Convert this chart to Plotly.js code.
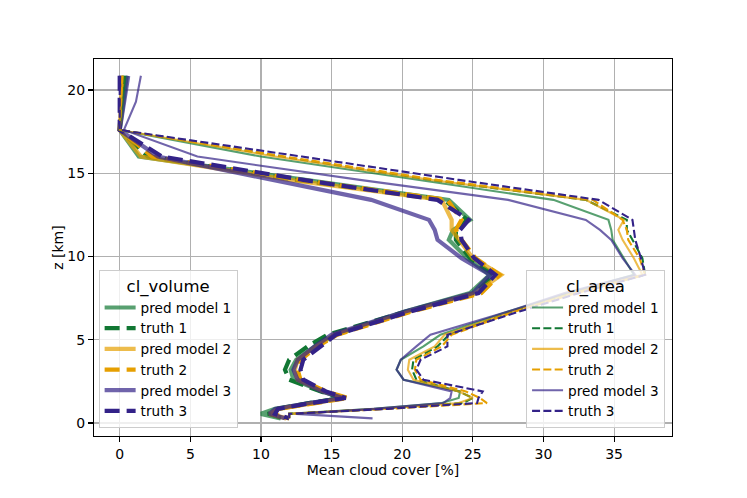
<!DOCTYPE html>
<html>
<head>
<meta charset="utf-8">
<script src="https://cdn.plot.ly/plotly-3.0.1.min.js"></script>
<style>html,body{margin:0;padding:0;background:#fff;}#chart{width:747px;height:498px;}</style>
</head>
<body>
<div id="chart"></div>
<script>
// Heights of the vertical levels [km]
const heights = [20.85, 19.3, 17.6, 16.0, 14.6, 13.4, 12.2, 11.6, 11.0, 9.9, 8.9, 7.8, 6.7, 5.3, 4.6, 3.8, 3.2, 2.6, 1.9, 1.5, 1.2, 0.85, 0.55, 0.28];

// cl_volume mean cloud cover [%]
const volPred1  = [0.5, 0.25, 0.0, 1.35, 13.0, 23.3, 24.8, 23.6, 23.3, 24.6, 26.2, 24.8, 20.2, 15.3, 13.8, 12.5, 12.1, 12.3, 14.3, 15.7, 13.5, 11.0, 10.0, 11.4];
const volTruth1 = [0.3, 0.1, 0.0, 2.0, 12.5, 23.0, 24.6, 23.8, 23.8, 24.8, 26.5, 25.2, 20.3, 14.7, 13.3, 12.0, 11.7, 12.0, 14.2, 15.8, 13.4, 11.2, 10.5, 11.6];
const volPred2  = [0.2, 0.1, 0.0, 1.5, 12.0, 22.8, 23.5, 23.5, 24.0, 25.0, 27.0, 25.2, 20.5, 15.2, 13.9, 12.6, 12.4, 12.6, 14.4, 16.0, 13.8, 11.3, 10.6, 11.8];
const volTruth2 = [0.2, 0.1, 0.0, 2.3, 12.8, 23.2, 24.2, 23.8, 24.2, 25.2, 26.9, 25.6, 20.7, 15.4, 14.0, 12.8, 12.6, 12.8, 14.6, 16.2, 13.8, 11.2, 10.8, 12.0];
const volPred3  = [0.6, 0.3, 0.0, 2.7, 10.8, 17.8, 21.9, 22.3, 22.5, 24.2, 26.2, 25.0, 20.2, 15.0, 13.8, 12.6, 12.3, 12.6, 14.3, 15.8, 13.4, 11.0, 10.6, 11.7];
const volTruth3 = [0.0, 0.0, 0.0, 3.0, 13.0, 22.5, 24.7, 24.1, 24.2, 25.1, 26.6, 25.4, 20.6, 15.3, 14.2, 13.0, 12.8, 13.0, 14.6, 16.0, 13.6, 11.2, 11.0, 12.0];

// cl_area mean cloud cover [%]
const areaPred1  = [0.4, 0.2, 0.0, 10.0, 21.0, 30.7, 34.6, 34.8, 34.9, 35.7, 36.4, 31.8, 27.5, 22.7, 21.5, 19.9, 19.6, 20.1, 24.1, 24.0, 22.8, 18.0, 12.0, 12.0];
const areaTruth1 = [0.3, 0.1, 0.0, 11.5, 22.0, 33.0, 35.9, 35.9, 36.3, 37.0, 37.2, 32.0, 27.8, 23.3, 22.5, 20.8, 20.7, 21.0, 24.0, 25.0, 24.3, 18.5, 12.0, 12.0];
const areaPred2  = [0.2, 0.1, 0.0, 11.0, 22.0, 33.0, 35.7, 35.3, 35.6, 36.4, 37.0, 32.0, 27.8, 23.0, 22.3, 20.5, 20.4, 20.8, 24.0, 25.0, 24.0, 18.5, 12.0, 12.0];
const areaTruth2 = [0.2, 0.1, 0.0, 11.7, 22.5, 33.5, 35.6, 35.9, 36.0, 36.8, 37.2, 32.3, 28.0, 23.5, 22.8, 21.0, 20.9, 21.3, 24.5, 25.5, 26.0, 19.0, 12.0, 12.0];
const areaPred3  = [1.5, 1.15, 0.3, 5.5, 17.0, 27.5, 33.0, 34.0, 34.8, 35.6, 36.5, 31.5, 27.5, 22.0, 21.0, 19.9, 19.6, 20.1, 23.5, 23.4, 22.9, 18.0, 12.5, 17.9];
const areaTruth3 = [0.0, 0.0, 0.0, 12.9, 24.0, 33.9, 36.3, 36.4, 36.5, 36.9, 37.2, 32.5, 28.3, 23.2, 23.2, 21.3, 21.0, 21.5, 25.7, 25.4, 25.3, 19.0, 12.0, 12.0];

const seriesNames = ['pred model 1', 'truth 1', 'pred model 2', 'truth 2', 'pred model 3', 'truth 3'];
const legendTitles = ['cl_volume', 'cl_area'];

const colGreen  = ['rgba(17,119,51,0.7)', 'rgb(17,119,51)'];
const colOrange = ['rgba(230,159,0,0.7)', 'rgb(230,159,0)'];
const colIndigo = ['rgba(51,34,136,0.7)', 'rgb(51,34,136)'];
const colors = [colGreen[0], colGreen[1], colOrange[0], colOrange[1], colIndigo[0], colIndigo[1]];

const volSeries  = [volPred1, volTruth1, volPred2, volTruth2, volPred3, volTruth3];
const areaSeries = [areaPred1, areaTruth1, areaPred2, areaTruth2, areaPred3, areaTruth3];

const traces = [];
volSeries.forEach((xs, i) => {
  traces.push({
    type: 'scatter', mode: 'lines', x: xs, y: heights, name: seriesNames[i],
    legend: 'legend',
    line: {color: colors[i], width: 4.2, dash: (i % 2 === 1) ? '15px,7px' : 'solid'}
  });
});
areaSeries.forEach((xs, i) => {
  traces.push({
    type: 'scatter', mode: 'lines', x: xs, y: heights, name: seriesNames[i],
    legend: 'legend2',
    line: {color: colors[i], width: 2.1, dash: (i % 2 === 1) ? '8px,3.3px' : 'solid'}
  });
});

const font = {family: 'DejaVu Sans, sans-serif', size: 14, color: '#000'};
const legendBase = {
  bgcolor: 'rgba(255,255,255,0.8)', bordercolor: '#cccccc', borderwidth: 1,
  font: {family: 'DejaVu Sans, sans-serif', size: 13.6, color: '#000'},
  yanchor: 'bottom', y: 0.022, tracegroupgap: 0, itemwidth: 31
};

const layout = {
  width: 747, height: 498,
  margin: {l: 94, r: 75, t: 59, b: 62, pad: 0},
  paper_bgcolor: '#fff', plot_bgcolor: '#fff',
  font: font,
  showlegend: true,
  xaxis: {
    range: [-1.82, 39.1], tickmode: 'linear', tick0: 0, dtick: 5,
    showgrid: true, gridcolor: '#b0b0b0', gridwidth: 1.1, zeroline: false,
    showline: true, linecolor: '#000', linewidth: 1.1, mirror: true,
    ticks: 'outside', ticklen: 5, tickwidth: 1.1, tickcolor: '#000',
    tickfont: font,
    title: {text: 'Mean cloud cover [%]', font: font, standoff: 2}
  },
  yaxis: {
    range: [-0.78, 21.86], tickmode: 'linear', tick0: 0, dtick: 5,
    showgrid: true, gridcolor: '#b0b0b0', gridwidth: 1.1, zeroline: false,
    showline: true, linecolor: '#000', linewidth: 1.1, mirror: true,
    ticks: 'outside', ticklen: 5, tickwidth: 1.1, tickcolor: '#000',
    tickfont: font,
    title: {text: 'z [km]', font: font, standoff: 0}
  },
  legend: Object.assign({}, legendBase, {
    x: 0.008, xanchor: 'left',
    title: {text: legendTitles[0], font: {family: 'DejaVu Sans, sans-serif', size: 16.5, color: '#000'}, side: 'top center'}
  }),
  legend2: Object.assign({}, legendBase, {
    x: 0.988, xanchor: 'right',
    title: {text: legendTitles[1], font: {family: 'DejaVu Sans, sans-serif', size: 16.5, color: '#000'}, side: 'top center'}
  })
};

Plotly.newPlot('chart', traces, layout, {displayModeBar: false, staticPlot: true});
</script>
</body>
</html>
